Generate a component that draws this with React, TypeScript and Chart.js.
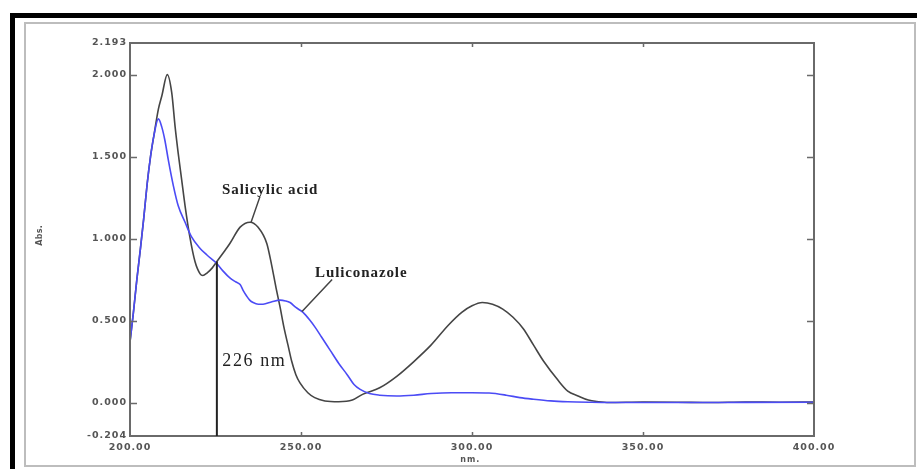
import React, { useEffect, useRef } from "react";
import { Chart, registerables } from "chart.js";

Chart.register(...registerables);

// Salicylic acid spectrum (nm, Abs.)
const saWavelengths = [200, 201, 202, 203, 204, 205, 206, 207, 208.3, 209.3, 210.9, 212.2, 213.2, 214.1, 215.1, 216.1, 217.5, 219, 220.5, 221.3, 222.5, 224, 225.4, 227.5, 229.2, 232.2, 235.1, 237.4, 240, 241.4, 242.7, 243.9, 245, 246.2, 247.3, 248.5, 249.7, 252, 254, 257, 261, 265, 268, 273, 278, 283, 288, 293, 297, 300, 303, 306, 309, 312, 315, 318, 321, 325, 328, 331, 334, 337, 340, 350, 360, 370, 380, 390, 400];
const saAbs = [0.37, 0.55, 0.75, 0.93, 1.12, 1.33, 1.5, 1.63, 1.79, 1.87, 2.0, 1.89, 1.68, 1.52, 1.36, 1.2, 1.01, 0.86, 0.785, 0.775, 0.79, 0.82, 0.86, 0.92, 0.97, 1.07, 1.1, 1.07, 0.97, 0.84, 0.7, 0.58, 0.46, 0.35, 0.25, 0.17, 0.12, 0.06, 0.03, 0.01, 0.005, 0.015, 0.05, 0.09, 0.16, 0.25, 0.35, 0.47, 0.55, 0.59, 0.61, 0.6, 0.57, 0.52, 0.45, 0.35, 0.25, 0.14, 0.07, 0.04, 0.015, 0.005, 0.0, 0.003, 0.002, 0.0, 0.003, 0.002, 0.003];

// Luliconazole spectrum (nm, Abs.)
const luWavelengths = [200, 201, 202, 203, 204, 205, 206, 207, 208.3, 209.3, 210.2, 211.2, 212.7, 214.1, 216.1, 218, 220.5, 222.5, 225.3, 227.3, 229.2, 231, 232.2, 233.2, 234.1, 235, 236, 237.5, 238.9, 241.5, 243.9, 245.5, 246.8, 248.5, 250.6, 252.5, 254.1, 256, 258.5, 261, 263.5, 265.5, 267.3, 270, 273, 278, 283, 288, 294, 300, 305, 310, 314, 318, 323, 328, 335, 345, 360, 380, 400];
const luAbs = [0.37, 0.55, 0.75, 0.93, 1.12, 1.33, 1.5, 1.63, 1.73, 1.68, 1.6, 1.48, 1.32, 1.2, 1.1, 1.01, 0.94, 0.9, 0.85, 0.8, 0.76, 0.735, 0.72, 0.68, 0.65, 0.625, 0.61, 0.6, 0.6, 0.615, 0.625, 0.62, 0.61, 0.58, 0.55, 0.505, 0.46, 0.4, 0.32, 0.24, 0.17, 0.11, 0.08, 0.055, 0.045, 0.04, 0.045, 0.055, 0.06, 0.06, 0.058, 0.045, 0.03, 0.02, 0.01, 0.005, 0.002, 0.0, 0.0, 0.001, 0.002];

const yTickValues = [-0.204, 0, 0.5, 1, 1.5, 2, 2.193];
const yTickLabels = ["-0.204", "0.000", "0.500", "1.000", "1.500", "2.000", "2.193"];
const yTickMarks = [0, 0.5, 1, 1.5, 2];
const xTickValues = [200, 250, 300, 350, 400];
const xTickLabels = ["200.00", "250.00", "300.00", "350.00", "400.00"];
const xTickMarks = [250, 300, 350];

const crossNm = 225.4;
const crossAbs = 0.86;

export default function App() {
  const ref = useRef<HTMLCanvasElement>(null);

  useEffect(() => {
    if (!ref.current) return;
    const decor = {
      id: "decor",
      afterDraw(chart: any) {
        const ctx = chart.ctx;
        const xs = chart.scales.x;
        const ys = chart.scales.y;
        const { left, right, top, bottom } = chart.chartArea;
        ctx.save();
        // frame
        ctx.strokeStyle = "#6a6a6a";
        ctx.lineWidth = 2;
        ctx.strokeRect(left, top, right - left, bottom - top);
        // tick marks
        ctx.lineWidth = 1.5;
        ctx.beginPath();
        yTickMarks.forEach((v) => {
          const py = Math.round(ys.getPixelForValue(v)) + 0.5;
          ctx.moveTo(left, py);
          ctx.lineTo(left + 7, py);
          ctx.moveTo(right, py);
          ctx.lineTo(right - 7, py);
        });
        xTickMarks.forEach((v) => {
          const px = Math.round(xs.getPixelForValue(v)) + 0.5;
          ctx.moveTo(px, bottom);
          ctx.lineTo(px, bottom - 4);
          ctx.moveTo(px, top);
          ctx.lineTo(px, top + 4);
        });
        ctx.stroke();
        // tick labels
        ctx.fillStyle = "#555";
        ctx.font = "bold 9.5px 'DejaVu Sans'";
        (ctx as any).letterSpacing = "1px";
        ctx.textAlign = "right";
        ctx.textBaseline = "middle";
        yTickValues.forEach((v, i) => {
          ctx.fillText(yTickLabels[i], left - 3, ys.getPixelForValue(v));
        });
        ctx.textAlign = "center";
        xTickValues.forEach((v, i) => {
          ctx.fillText(xTickLabels[i], xs.getPixelForValue(v), bottom + 12);
        });
        ctx.font = "bold 8px 'DejaVu Sans'";
        ctx.fillText("nm.", xs.getPixelForValue(299.5), bottom + 24);
        ctx.save();
        ctx.translate(40, ys.getPixelForValue(1.02));
        ctx.rotate(-Math.PI / 2);
        ctx.font = "bold 8px 'DejaVu Sans'";
        (ctx as any).letterSpacing = "0.3px";
        ctx.fillText("Abs.", 0, 0);
        ctx.restore();
        (ctx as any).letterSpacing = "0px";

        // 226 nm marker
        ctx.strokeStyle = "#222";
        ctx.lineWidth = 2;
        ctx.beginPath();
        ctx.moveTo(xs.getPixelForValue(crossNm), bottom);
        ctx.lineTo(xs.getPixelForValue(crossNm), ys.getPixelForValue(crossAbs));
        ctx.stroke();

        // leader lines
        ctx.strokeStyle = "#444";
        ctx.lineWidth = 1.5;
        ctx.beginPath();
        ctx.moveTo(xs.getPixelForValue(238.0), ys.getPixelForValue(1.256));
        ctx.lineTo(xs.getPixelForValue(235.4), ys.getPixelForValue(1.1));
        ctx.moveTo(xs.getPixelForValue(259.1), ys.getPixelForValue(0.75));
        ctx.lineTo(xs.getPixelForValue(250.3), ys.getPixelForValue(0.555));
        ctx.stroke();

        // annotation texts
        ctx.fillStyle = "#222";
        ctx.textAlign = "left";
        ctx.textBaseline = "middle";
        ctx.font = "bold 15px 'Liberation Serif'";
        (ctx as any).letterSpacing = "0.9px";
        ctx.fillText("Salicylic acid", xs.getPixelForValue(226.9), ys.getPixelForValue(1.293));
        ctx.fillText("Luliconazole", xs.getPixelForValue(254.1), ys.getPixelForValue(0.787));
        ctx.font = "18px 'Liberation Serif'";
        (ctx as any).letterSpacing = "1.6px";
        ctx.fillText("226 nm", xs.getPixelForValue(227.0), ys.getPixelForValue(0.25));
        (ctx as any).letterSpacing = "0px";
        ctx.restore();
      },
    };

    const chart = new Chart(ref.current, {
      type: "line",
      data: {
        datasets: [
          {
            label: "Luliconazole",
            data: luWavelengths.map((x, i) => ({ x, y: luAbs[i] })),
            borderColor: "#4b4bf5",
            borderWidth: 1.6,
            pointRadius: 0,
            fill: false,
            cubicInterpolationMode: "monotone",
          },
          {
            label: "Salicylic acid",
            data: saWavelengths.map((x, i) => ({ x, y: saAbs[i] })),
            borderColor: "#454545",
            borderWidth: 1.6,
            pointRadius: 0,
            fill: false,
            cubicInterpolationMode: "monotone",
          },
        ],
      },
      options: {
        animation: false,
        responsive: false,
        devicePixelRatio: 1,
        layout: { padding: { left: 130, top: 43, right: 103, bottom: 33 } },
        plugins: { legend: { display: false }, tooltip: { enabled: false } },
        scales: {
          x: { type: "linear", min: 200, max: 400, display: false },
          y: { type: "linear", min: -0.204, max: 2.193, display: false },
        },
      },
      plugins: [decor],
    });
    return () => chart.destroy();
  }, []);

  return (
    <div style={{ position: "fixed", left: 0, top: 0, width: 917, height: 469, background: "#fff", overflow: "hidden" }}>
      <div style={{ position: "absolute", left: 10, top: 13, width: 920, height: 470, borderTop: "5px solid #000", borderLeft: "5px solid #000", boxSizing: "border-box" }} />
      <div style={{ position: "absolute", left: 24, top: 22, width: 892, height: 445, border: "2px solid #bdbdbd", boxSizing: "border-box" }} />
      <canvas ref={ref} width={917} height={469} style={{ position: "absolute", left: 0, top: 0, width: 917, height: 469 }} />
    </div>
  );
}
